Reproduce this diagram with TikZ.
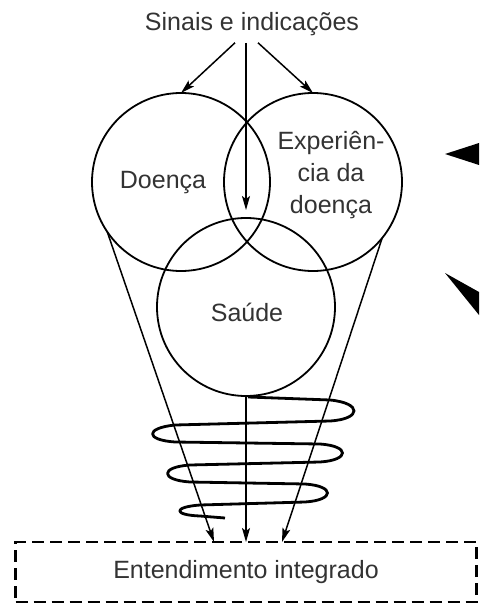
\documentclass[tikz,border=0pt]{standalone}
\usepackage{fontspec}
\setmainfont{Liberation Sans}
\usetikzlibrary{arrows.meta}

\begin{document}
\begin{tikzpicture}[x=0.5pt,y=-0.5pt,
    every node/.style={font=\fontsize{12.5}{16}\selectfont,text=black!80},
    area/.style={circle,draw,line width=0.9pt,minimum size=89pt,inner sep=0pt,outer sep=0pt},
    flow/.style={line width=0.75pt,-{Stealth[length=7pt,width=4pt,inset=1.5pt]}},
    coil/.style={line width=1.4pt,line join=round},
    goal/.style={draw,dash pattern=on 6pt off 3pt,line width=1.2pt,minimum width=230.5pt,minimum height=30pt,inner sep=0pt,outer sep=0pt}]
    \useasboundingbox (0,0) rectangle (479,609);
    \node (sinais) at (252,24) {Sinais e indicações};
    \node[area] (doenca) at (181,182) {};
    \node[area] (experiencia) at (313,182) {};
    \node[area] (saude) at (246,307) {};
    \node (tdoenca) at (163,183) {Doença};
    \node[align=center] (texperiencia) at (331,175) {Experiên-\\cia da\\doença};
    \node (tsaude) at (247,312) {Saúde};
    \node[goal] (entendimento) at (246,572) {Entendimento integrado};
    \draw[flow] ([xshift=-8.5pt]sinais.south) -- (doenca.north);
    \draw[flow] ([xshift=-3pt]sinais.south) -- ([yshift=4pt]saude.north);
    \draw[flow] ([xshift=3pt]sinais.south) -- (experiencia.north);
    \draw[flow] (doenca.214) -- ([xshift=-16pt]entendimento.north);
    \draw[flow] (saude.south) -- (entendimento.north);
    \draw[flow] (experiencia.321) -- ([xshift=18pt]entendimento.north);
    \draw[coil] (248,397) -- (330,400) .. controls (362,403) and (362,419) .. (330,421)
        -- (175,425) .. controls (145,428) and (145,440) .. (175,442)
        -- (320,444) .. controls (350,446) and (350,460) .. (320,462)
        -- (190,465) .. controls (160,467) and (160,480) .. (190,482)
        -- (305,484) .. controls (335,486) and (335,500) .. (305,502)
        -- (200,505) .. controls (173,507) and (173,515) .. (200,516)
        -- (225,518);
    \fill (445,154) -- (479,143) -- (479,165) -- cycle;
    \fill (445,273) -- (479,292) -- (479,315) -- cycle;
\end{tikzpicture}
\end{document}
